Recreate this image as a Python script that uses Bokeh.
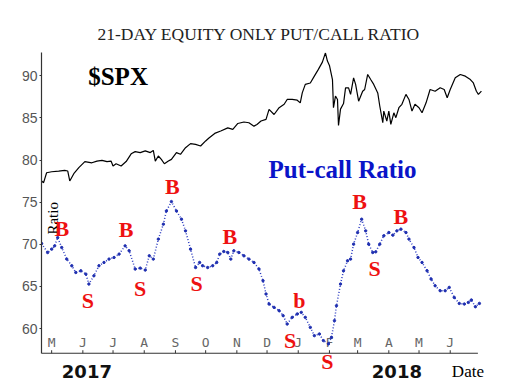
import math
import pandas as pd
from bokeh.plotting import figure
from bokeh.models import Range1d, FixedTicker, Label, LabelSet, ColumnDataSource
from bokeh.core.properties import value
from bokeh.embed import file_html
from bokeh.resources import INLINE

# ---------------- data ----------------
pcr_dates = [
    "2017-04-21", "2017-04-27", "2017-05-01", "2017-05-04", "2017-05-07", "2017-05-11",
    "2017-05-16", "2017-05-21", "2017-05-25", "2017-05-30", "2017-06-04", "2017-06-07",
    "2017-06-12", "2017-06-17", "2017-06-22", "2017-06-27", "2017-07-02", "2017-07-07",
    "2017-07-13", "2017-07-17", "2017-07-23", "2017-07-28", "2017-08-02", "2017-08-06",
    "2017-08-10", "2017-08-15", "2017-08-20", "2017-08-23", "2017-08-28", "2017-09-02",
    "2017-09-07", "2017-09-11", "2017-09-16", "2017-09-21", "2017-09-25", "2017-09-28",
    "2017-10-03", "2017-10-08", "2017-10-12", "2017-10-15", "2017-10-19", "2017-10-23",
    "2017-10-26", "2017-10-29", "2017-11-03", "2017-11-08", "2017-11-13", "2017-11-18",
    "2017-11-23", "2017-11-27", "2017-11-30", "2017-12-03", "2017-12-08", "2017-12-13",
    "2017-12-17", "2017-12-21", "2017-12-26", "2017-12-31", "2018-01-04", "2018-01-08",
    "2018-01-13", "2018-01-17", "2018-01-22", "2018-01-26", "2018-01-31", "2018-02-03",
    "2018-02-06", "2018-02-08", "2018-02-12", "2018-02-15", "2018-02-19", "2018-02-22",
    "2018-02-25", "2018-03-01", "2018-03-05", "2018-03-09", "2018-03-12", "2018-03-16",
    "2018-03-19", "2018-03-23", "2018-03-27", "2018-04-01", "2018-04-05", "2018-04-09",
    "2018-04-13", "2018-04-18", "2018-04-21", "2018-04-26", "2018-04-30", "2018-05-04",
    "2018-05-09", "2018-05-13", "2018-05-17", "2018-05-22", "2018-05-27", "2018-05-31",
    "2018-06-05", "2018-06-10", "2018-06-15", "2018-06-19", "2018-06-22", "2018-06-26",
    "2018-06-30",
]
pcr_values = [
    70.09, 69.03, 69.43, 69.82, 70.80, 69.62,
    68.25, 67.46, 66.66, 66.86, 66.47, 65.29,
    66.27, 67.46, 67.85, 68.25, 68.44, 68.84,
    69.82, 69.23, 67.07, 67.18, 66.95, 68.64,
    68.25, 70.62, 72.39, 73.96, 75.07, 73.96,
    72.98, 71.60, 69.43, 67.25, 67.85, 67.46,
    67.25, 67.46, 67.85, 68.84, 69.15, 69.03,
    68.25, 69.23, 69.03, 68.64, 68.25, 67.85,
    67.07, 65.68, 64.11, 62.92, 62.52, 62.13,
    61.54, 60.55, 61.34, 61.74, 61.93, 61.34,
    60.15, 59.17, 59.37, 58.58, 58.19, 58.97,
    60.95, 62.72, 65.29, 66.86, 68.05, 68.25,
    70.02, 71.40, 72.98, 71.60, 70.02, 69.03,
    69.11, 70.02, 71.01, 71.40, 71.09, 71.60,
    71.80, 71.40, 70.62, 69.62, 68.44, 67.85,
    66.86, 65.88, 65.09, 64.50, 64.50, 64.89,
    63.70, 62.99, 62.92, 63.11, 63.40, 62.60,
    62.99,
]

spx_dates = [
    "2017-04-21", "2017-04-23", "2017-04-26", "2017-05-01", "2017-05-08", "2017-05-14",
    "2017-05-17", "2017-05-19", "2017-05-23", "2017-05-28", "2017-06-03", "2017-06-10",
    "2017-06-15", "2017-06-20", "2017-06-25", "2017-06-29", "2017-07-01", "2017-07-04",
    "2017-07-09", "2017-07-14", "2017-07-19", "2017-07-23", "2017-07-28", "2017-08-02",
    "2017-08-07", "2017-08-10", "2017-08-12", "2017-08-15", "2017-08-18", "2017-08-21",
    "2017-08-25", "2017-08-28", "2017-09-02", "2017-09-06", "2017-09-11", "2017-09-16",
    "2017-09-21", "2017-09-26", "2017-10-01", "2017-10-04", "2017-10-10", "2017-10-16",
    "2017-10-23", "2017-10-28", "2017-11-02", "2017-11-08", "2017-11-13", "2017-11-18",
    "2017-11-21", "2017-11-25", "2017-11-30", "2017-12-03", "2017-12-08", "2017-12-13",
    "2017-12-18", "2017-12-21", "2017-12-26", "2017-12-31", "2018-01-03", "2018-01-05",
    "2018-01-08", "2018-01-13", "2018-01-17", "2018-01-21", "2018-01-25", "2018-01-28",
    "2018-01-30", "2018-02-01", "2018-02-04", "2018-02-05", "2018-02-07", "2018-02-09",
    "2018-02-10", "2018-02-12", "2018-02-15", "2018-02-17", "2018-02-20", "2018-02-22",
    "2018-02-25", "2018-02-27", "2018-03-02", "2018-03-06", "2018-03-08", "2018-03-11",
    "2018-03-14", "2018-03-17", "2018-03-21", "2018-03-23", "2018-03-26", "2018-03-27",
    "2018-03-30", "2018-04-01", "2018-04-03", "2018-04-06", "2018-04-08", "2018-04-11",
    "2018-04-14", "2018-04-18", "2018-04-21", "2018-04-24", "2018-04-27", "2018-05-01",
    "2018-05-04", "2018-05-08", "2018-05-12", "2018-05-17", "2018-05-22", "2018-05-26",
    "2018-05-29", "2018-06-01", "2018-06-06", "2018-06-11", "2018-06-16", "2018-06-21",
    "2018-06-24", "2018-06-27", "2018-06-29", "2018-07-02",
]
spx_values = [
    2345, 2338, 2379, 2383, 2386, 2389,
    2386, 2345, 2375, 2400, 2425, 2420,
    2427, 2430, 2425, 2427, 2407, 2416,
    2407, 2425, 2457, 2466, 2462, 2469,
    2462, 2471, 2427, 2448, 2434, 2416,
    2427, 2434, 2462, 2455, 2482, 2499,
    2496, 2489, 2510, 2521, 2541, 2551,
    2564, 2558, 2582, 2588, 2585, 2571,
    2578, 2592, 2599, 2640, 2619, 2647,
    2661, 2681, 2681, 2678, 2667, 2708,
    2743, 2749, 2777, 2805, 2835, 2873,
    2839, 2821, 2763, 2647, 2695, 2681,
    2574, 2641, 2664, 2729, 2729, 2702,
    2770, 2743, 2674, 2715, 2722, 2784,
    2763, 2743, 2708, 2654, 2585, 2633,
    2592, 2633, 2578, 2626, 2606, 2647,
    2661, 2702, 2681, 2633, 2661, 2647,
    2626, 2667, 2722, 2715, 2729, 2722,
    2688, 2722, 2770, 2784, 2777, 2763,
    2749, 2715, 2702, 2715,
]

signal_dates = ["2017-05-11", "2017-06-06", "2017-07-14", "2017-07-28", "2017-08-29",
                "2017-09-22", "2017-10-25", "2017-12-24", "2018-01-02", "2018-01-30",
                "2018-03-03", "2018-03-18", "2018-04-13"]
signal_levels = [71.83, 63.31, 71.72, 64.73, 76.80, 65.33, 70.89, 58.58, 63.31, 56.09,
                 75.03, 67.10, 73.25]
signal_texts = ["B", "S", "B", "S", "B", "S", "B", "S", "b", "S", "B", "S", "B"]

month_starts = ["2017-05-01", "2017-06-01", "2017-07-01", "2017-08-01", "2017-09-01",
                "2017-10-01", "2017-11-01", "2017-12-01", "2018-01-01", "2018-02-01",
                "2018-03-01", "2018-04-01", "2018-05-01", "2018-06-01"]
month_letters = ["M", "J", "J", "A", "S", "O", "N", "D", "J", "F", "M", "A", "M", "J"]

year_positions = ["2017-06-05", "2018-04-09"]
year_labels = ["2017", "2018"]
y_ticks = [60, 65, 70, 75, 80, 85, 90]

# scale limits
DATE_START, AXIS_END, FRAME_END = "2017-04-20 22:00", "2018-06-28 12:00", "2018-07-14 00:00"
RATIO_LOW, RATIO_HIGH = 57.08, 92.75      # visible ratio axis
SPX_LOW, SPX_HIGH = 1635.0, 2874.5        # SPX overlay scale (same pixel span)
LABEL_ROW = 54.91                         # level of the year / "Date" texts below the axis
FRAME_LOW = 53.85                         # frame extends below the axis to hold those texts


def ms(s):
    return (pd.Timestamp(s) - pd.Timestamp("1970-01-01")) / pd.Timedelta(milliseconds=1)


# ---------------- figure ----------------
p = figure(width=500, height=388, x_axis_type="datetime", x_axis_location=None,
           x_range=Range1d(ms(DATE_START), ms(FRAME_END)),
           y_range=Range1d(FRAME_LOW, RATIO_HIGH),
           output_backend="svg", toolbar_location=None,
           min_border_left=41, min_border_right=7, min_border_top=52, min_border_bottom=8,
           background_fill_color="white", border_fill_color="white")
p.outline_line_color = None
p.grid.visible = False

p.title.text = "21-DAY EQUITY ONLY PUT/CALL RATIO"
p.title.align = "left"
p.title.offset = 56
p.title.text_font = "Liberation Serif"
p.title.text_font_size = "17.5px"
p.title.text_font_style = "normal"
p.title.text_color = "#222222"
p.title.standoff = 18

# SPX scale spans the same pixels as RATIO_LOW..RATIO_HIGH
spx_per_unit = (SPX_HIGH - SPX_LOW) / (RATIO_HIGH - RATIO_LOW)
p.extra_y_ranges = {"spx": Range1d(SPX_LOW - (RATIO_LOW - FRAME_LOW) * spx_per_unit, SPX_HIGH)}

# y axis
ya = p.yaxis[0]
ya.bounds = (RATIO_LOW, RATIO_HIGH)
ya.ticker = FixedTicker(ticks=y_ticks)
ya.axis_line_color = "#333333"
ya.axis_line_width = 1.2
ya.major_tick_out = 2
ya.major_tick_in = 0
ya.minor_tick_line_color = None
ya.major_tick_line_color = "#333333"
ya.major_label_standoff = 2
ya.major_label_text_font = "Liberation Sans"
ya.major_label_text_font_size = "14px"
ya.major_label_text_color = "#555555"

# date axis baseline, month ticks, month letters, years, "Date"
p.segment(x0=[pd.Timestamp(DATE_START)], y0=[RATIO_LOW], x1=[pd.Timestamp(AXIS_END)],
          y1=[RATIO_LOW], line_color="#333333", line_width=1.2)
p.segment(x0=pd.to_datetime(month_starts), y0=RATIO_LOW,
          x1=pd.to_datetime(month_starts), y1=RATIO_LOW + 0.36,
          line_color="#333333", line_width=1)

month_src = ColumnDataSource(dict(x=pd.to_datetime(month_starts), t=month_letters))
p.text(x="x", y=58.38, text="t", source=month_src, text_align="center", text_baseline="middle",
       text_font=value("DejaVu Sans Mono"), text_font_size="13px", text_color="#666666")

year_src = ColumnDataSource(dict(x=pd.to_datetime(year_positions), t=year_labels))
p.text(x="x", y=LABEL_ROW, text="t", source=year_src, text_align="center",
       text_baseline="middle", text_font=value("DejaVu Sans"), text_font_style="bold",
       text_font_size="18px", text_color="#111111")
p.text(x=[pd.Timestamp("2018-06-18 14:00")], y=[LABEL_ROW], text=["Date"], text_align="center",
       text_baseline="middle", text_font=value("Liberation Serif"), text_font_size="17px",
       text_color="black")

# SPX (black line, on its own hidden scale)
spx_src = ColumnDataSource(dict(x=pd.to_datetime(spx_dates), y=spx_values))
p.line(x="x", y="y", source=spx_src, y_range_name="spx", line_color="black", line_width=1.2)

# put-call ratio (blue dotted)
pcr_src = ColumnDataSource(dict(x=pd.to_datetime(pcr_dates), y=pcr_values))
p.line(x="x", y="y", source=pcr_src, line_color="#2a3ac0", line_width=1.5, line_dash="1 2")
p.scatter(x="x", y="y", source=pcr_src, size=2.4, color="#1f2fb0")

# annotations
p.add_layout(Label(x=ms("2017-05-02"), y=73.08, text="Ratio", angle=math.pi / 2,
                   text_align="center", text_baseline="middle",
                   text_font="Liberation Serif", text_font_size="15px", text_color="black"))
p.add_layout(Label(x=ms("2017-07-06"), y=89.94, text="$SPX", text_align="center",
                   text_baseline="middle", text_font="Liberation Serif", text_font_style="bold",
                   text_font_size="25px", text_color="black"))
p.add_layout(Label(x=ms("2018-02-14"), y=78.93, text="Put-call Ratio", text_align="center",
                   text_baseline="middle", text_font="Liberation Serif", text_font_style="bold",
                   text_font_size="25px", text_color="#0a14c8"))

sig_src = ColumnDataSource(dict(x=pd.to_datetime(signal_dates), y=signal_levels, t=signal_texts))
p.add_layout(LabelSet(x="x", y="y", text="t", source=sig_src, text_align="center",
                      text_baseline="middle", text_font=value("Liberation Serif"),
                      text_font_style="bold", text_font_size="22px", text_color="#ee1111"))

open("out.html", "w").write(file_html(p, INLINE))
